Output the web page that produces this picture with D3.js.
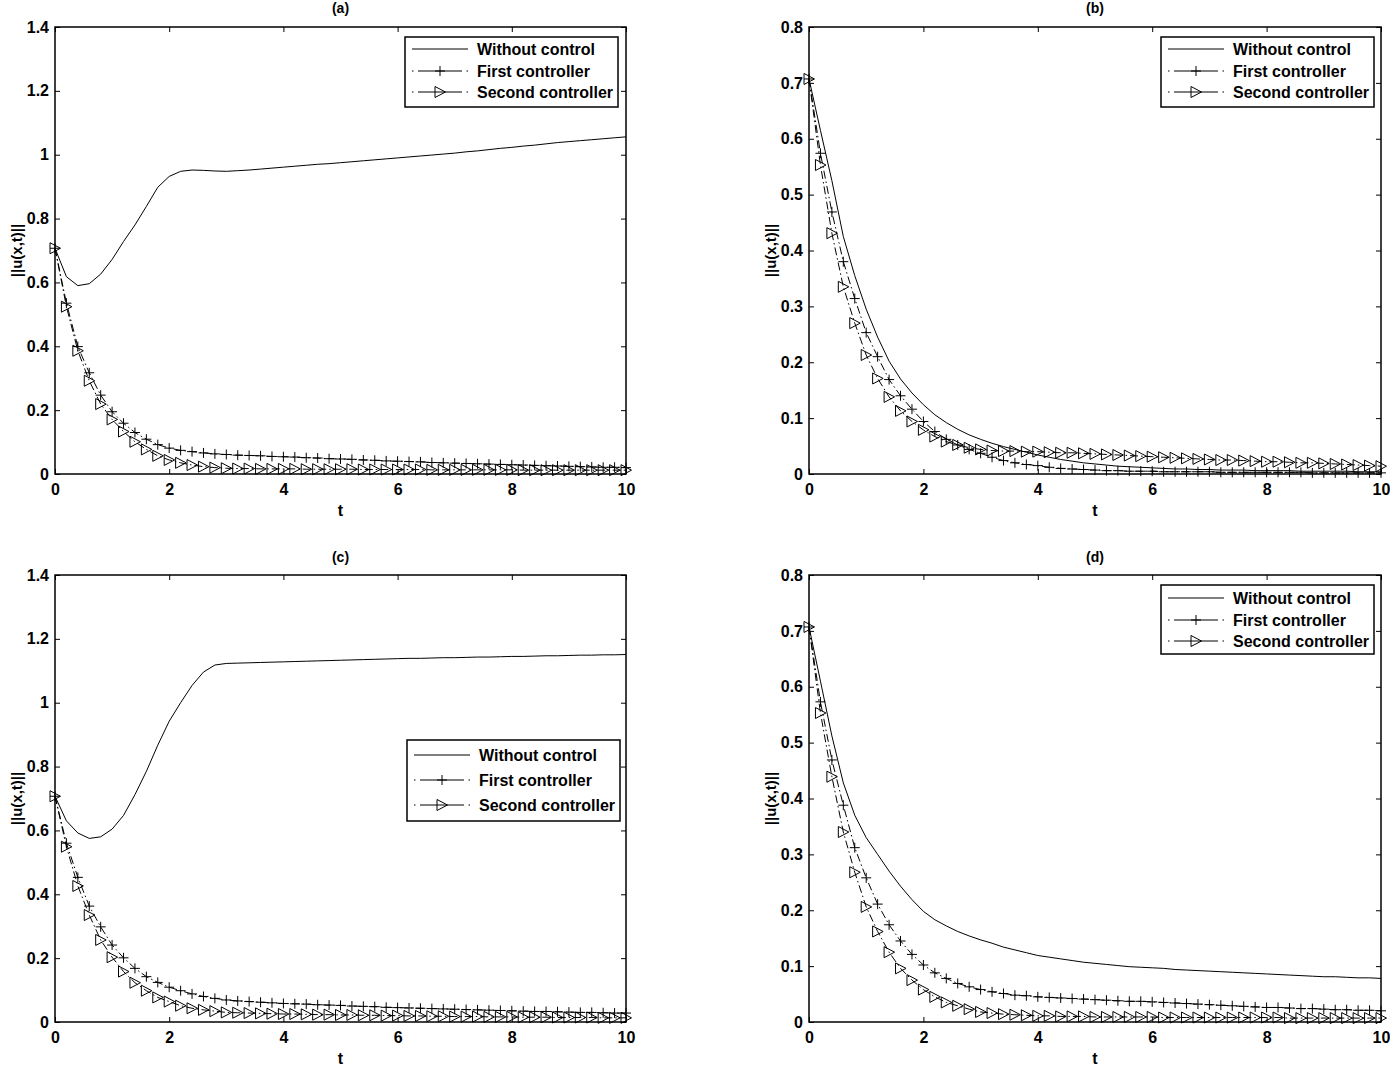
<!DOCTYPE html>
<html>
<head>
<meta charset="utf-8">
<script src="https://cdn.jsdelivr.net/npm/d3@7"></script>
<style>
  body { margin: 0; background: #fff; }
  svg { font-family: "Liberation Sans", Arial, sans-serif; }
</style>
</head>
<body>
<svg id="chart" width="1390" height="1067"></svg>
<script>
// time samples (markers every 0.2)
const tValues = [0, 0.2, 0.4, 0.6, 0.8, 1, 1.2, 1.4, 1.6, 1.8, 2, 2.2, 2.4, 2.6, 2.8, 3, 3.2, 3.4, 3.6, 3.8,
  4, 4.2, 4.4, 4.6, 4.8, 5, 5.2, 5.4, 5.6, 5.8, 6, 6.2, 6.4, 6.6, 6.8, 7, 7.2, 7.4, 7.6, 7.8,
  8, 8.2, 8.4, 8.6, 8.8, 9, 9.2, 9.4, 9.6, 9.8, 10];

// panel (a)
const aWithout = [0.707, 0.618, 0.590, 0.596, 0.626, 0.672, 0.728, 0.780, 0.838, 0.898, 0.932, 0.948, 0.952, 0.951, 0.949, 0.948, 0.950, 0.952, 0.955, 0.958,
  0.961, 0.964, 0.967, 0.970, 0.972, 0.975, 0.978, 0.981, 0.984, 0.987, 0.990, 0.993, 0.996, 0.999, 1.002, 1.005, 1.009, 1.012, 1.016, 1.020,
  1.023, 1.027, 1.030, 1.034, 1.038, 1.041, 1.044, 1.047, 1.050, 1.053, 1.056];
const aFirst = [0.707, 0.535, 0.399, 0.317, 0.247, 0.195, 0.159, 0.130, 0.109, 0.092, 0.081, 0.074, 0.070, 0.066, 0.063, 0.061, 0.059, 0.058, 0.057, 0.055,
  0.054, 0.053, 0.051, 0.050, 0.048, 0.047, 0.046, 0.044, 0.043, 0.041, 0.040, 0.039, 0.038, 0.036, 0.035, 0.034, 0.033, 0.032, 0.031, 0.030,
  0.029, 0.028, 0.027, 0.026, 0.025, 0.024, 0.023, 0.022, 0.021, 0.021, 0.020];
const aSecond = [0.707, 0.524, 0.386, 0.292, 0.219, 0.171, 0.133, 0.101, 0.077, 0.057, 0.044, 0.035, 0.028, 0.023, 0.020, 0.018, 0.017, 0.017, 0.016, 0.016,
  0.016, 0.016, 0.015, 0.015, 0.015, 0.015, 0.015, 0.014, 0.014, 0.014, 0.014, 0.014, 0.014, 0.013, 0.013, 0.013, 0.013, 0.013, 0.013, 0.013,
  0.013, 0.012, 0.012, 0.012, 0.012, 0.012, 0.012, 0.012, 0.012, 0.012, 0.012];

// panel (b)
const bWithout = [0.707, 0.615, 0.525, 0.425, 0.355, 0.295, 0.245, 0.202, 0.170, 0.145, 0.124, 0.106, 0.092, 0.080, 0.070, 0.062, 0.055, 0.049, 0.044, 0.039,
  0.034, 0.030, 0.026, 0.023, 0.020, 0.018, 0.016, 0.014, 0.013, 0.012, 0.011, 0.010, 0.009, 0.009, 0.008, 0.008, 0.007, 0.007, 0.007, 0.006,
  0.006, 0.006, 0.006, 0.005, 0.005, 0.005, 0.005, 0.005, 0.004, 0.004, 0.004];
const bFirst = [0.707, 0.574, 0.469, 0.380, 0.314, 0.253, 0.210, 0.169, 0.140, 0.116, 0.094, 0.076, 0.062, 0.052, 0.044, 0.037, 0.030, 0.024, 0.020, 0.017,
  0.015, 0.012, 0.010, 0.009, 0.008, 0.007, 0.006, 0.006, 0.005, 0.005, 0.005, 0.004, 0.004, 0.004, 0.004, 0.004, 0.003, 0.003, 0.003, 0.003,
  0.003, 0.003, 0.003, 0.003, 0.002, 0.002, 0.002, 0.002, 0.002, 0.002, 0.002];
const bSecond = [0.707, 0.553, 0.431, 0.335, 0.270, 0.213, 0.171, 0.138, 0.113, 0.094, 0.079, 0.067, 0.058, 0.052, 0.047, 0.044, 0.042, 0.041, 0.041, 0.040,
  0.040, 0.039, 0.038, 0.038, 0.037, 0.036, 0.035, 0.034, 0.033, 0.032, 0.031, 0.030, 0.029, 0.028, 0.027, 0.026, 0.025, 0.025, 0.024, 0.023,
  0.022, 0.022, 0.021, 0.020, 0.020, 0.019, 0.018, 0.017, 0.016, 0.015, 0.014];

// panel (c)
const cWithout = [0.707, 0.630, 0.592, 0.575, 0.580, 0.604, 0.647, 0.712, 0.785, 0.867, 0.942, 1.000, 1.054, 1.096, 1.118, 1.123, 1.124, 1.125, 1.126, 1.127,
  1.128, 1.129, 1.130, 1.131, 1.132, 1.133, 1.134, 1.135, 1.136, 1.137, 1.138, 1.139, 1.139, 1.140, 1.141, 1.141, 1.142, 1.143, 1.143, 1.144,
  1.145, 1.145, 1.146, 1.147, 1.147, 1.148, 1.149, 1.149, 1.150, 1.150, 1.151];
const cFirst = [0.707, 0.560, 0.453, 0.363, 0.298, 0.241, 0.201, 0.168, 0.142, 0.124, 0.109, 0.098, 0.088, 0.080, 0.074, 0.069, 0.066, 0.064, 0.062, 0.060,
  0.058, 0.057, 0.056, 0.054, 0.053, 0.052, 0.050, 0.049, 0.048, 0.046, 0.045, 0.044, 0.043, 0.042, 0.041, 0.040, 0.039, 0.038, 0.037, 0.036,
  0.035, 0.034, 0.033, 0.033, 0.032, 0.031, 0.030, 0.030, 0.029, 0.028, 0.028];
const cSecond = [0.707, 0.549, 0.426, 0.335, 0.257, 0.203, 0.158, 0.123, 0.098, 0.077, 0.064, 0.051, 0.043, 0.038, 0.034, 0.030, 0.029, 0.028, 0.027, 0.026,
  0.025, 0.025, 0.024, 0.023, 0.023, 0.022, 0.022, 0.021, 0.021, 0.020, 0.020, 0.019, 0.019, 0.018, 0.018, 0.017, 0.017, 0.017, 0.016, 0.016,
  0.016, 0.015, 0.015, 0.015, 0.014, 0.014, 0.014, 0.014, 0.013, 0.013, 0.013];

// panel (d)
const dWithout = [0.707, 0.610, 0.512, 0.428, 0.370, 0.330, 0.300, 0.270, 0.243, 0.219, 0.198, 0.183, 0.172, 0.162, 0.154, 0.147, 0.141, 0.134, 0.129, 0.124,
  0.119, 0.116, 0.113, 0.110, 0.107, 0.105, 0.103, 0.101, 0.099, 0.098, 0.097, 0.096, 0.094, 0.093, 0.092, 0.091, 0.090, 0.089, 0.088, 0.087,
  0.086, 0.085, 0.084, 0.083, 0.082, 0.081, 0.081, 0.080, 0.079, 0.079, 0.078];
const dFirst = [0.707, 0.573, 0.469, 0.388, 0.312, 0.258, 0.211, 0.174, 0.145, 0.121, 0.102, 0.088, 0.078, 0.069, 0.063, 0.058, 0.054, 0.051, 0.048, 0.047,
  0.045, 0.044, 0.043, 0.042, 0.041, 0.040, 0.039, 0.038, 0.037, 0.037, 0.036, 0.035, 0.034, 0.033, 0.032, 0.031, 0.030, 0.029, 0.028, 0.027,
  0.026, 0.026, 0.025, 0.024, 0.024, 0.023, 0.022, 0.022, 0.021, 0.021, 0.020];
const dSecond = [0.707, 0.553, 0.439, 0.340, 0.268, 0.206, 0.162, 0.125, 0.096, 0.075, 0.058, 0.045, 0.035, 0.029, 0.023, 0.018, 0.016, 0.014, 0.013, 0.012,
  0.011, 0.011, 0.010, 0.010, 0.010, 0.009, 0.009, 0.009, 0.009, 0.009, 0.009, 0.008, 0.008, 0.008, 0.008, 0.008, 0.008, 0.008, 0.008, 0.008,
  0.008, 0.008, 0.007, 0.007, 0.007, 0.007, 0.007, 0.007, 0.007, 0.007, 0.007];

// axis ticks and labels
const xTicks = [0, 2, 4, 6, 8, 10];
const xTickLabels = ['0', '2', '4', '6', '8', '10'];
const yTicksWide = [0, 0.2, 0.4, 0.6, 0.8, 1, 1.2, 1.4];
const yTickLabelsWide = ['0', '0.2', '0.4', '0.6', '0.8', '1', '1.2', '1.4'];
const yTicksNarrow = [0, 0.1, 0.2, 0.3, 0.4, 0.5, 0.6, 0.7, 0.8];
const yTickLabelsNarrow = ['0', '0.1', '0.2', '0.3', '0.4', '0.5', '0.6', '0.7', '0.8'];
const legendLabels = ['Without control', 'First controller', 'Second controller'];
const panelTitles = ['(a)', '(b)', '(c)', '(d)'];
const xLabel = 't';
const yLabel = '||u(x,t)||';

const svg = d3.select('#chart');

const plusPath = 'M-5,0H5M0,-5V5';
const triPath = 'M-5,-5.5L5.5,0L-5,5.5Z';
const dashDot = '8,3,1.5,3';

const panels = [
  { title: panelTitles[0], left: 55, right: 626, top: 27, bottom: 474, yMax: 1.4,
    yTicks: yTicksWide, yLabels: yTickLabelsWide, series: [aWithout, aFirst, aSecond],
    titleY: 13, legend: { x: 405, y: 37, h: 70, rows: [12, 34, 55] } },
  { title: panelTitles[1], left: 809, right: 1381, top: 27, bottom: 474, yMax: 0.8,
    yTicks: yTicksNarrow, yLabels: yTickLabelsNarrow, series: [bWithout, bFirst, bSecond],
    titleY: 13, legend: { x: 1161, y: 37, h: 70, rows: [12, 34, 55] } },
  { title: panelTitles[2], left: 55, right: 626, top: 575, bottom: 1022, yMax: 1.4,
    yTicks: yTicksWide, yLabels: yTickLabelsWide, series: [cWithout, cFirst, cSecond],
    titleY: 562, legend: { x: 407, y: 740, h: 81, rows: [15, 40, 65] } },
  { title: panelTitles[3], left: 809, right: 1381, top: 575, bottom: 1022, yMax: 0.8,
    yTicks: yTicksNarrow, yLabels: yTickLabelsNarrow, series: [dWithout, dFirst, dSecond],
    titleY: 562, legend: { x: 1161, y: 585, h: 69, rows: [13, 35, 56] } }
];

function drawPanel(p) {
  const x = d3.scaleLinear().domain([0, 10]).range([p.left, p.right]);
  const y = d3.scaleLinear().domain([0, p.yMax]).range([p.bottom, p.top]);
  const g = svg.append('g');

  const styleAxis = sel => {
    sel.select('.domain').remove();
    sel.selectAll('.tick line').attr('stroke', '#000').attr('stroke-width', 1);
    sel.selectAll('.tick text')
      .attr('fill', '#000')
      .style('font-size', '16px')
      .style('font-weight', 'bold')
      .style('font-family', '"Liberation Sans", Arial, sans-serif');
  };

  // bottom / left axes with labels, ticks pointing inward
  g.append('g')
    .attr('transform', `translate(0,${p.bottom})`)
    .call(d3.axisBottom(x).tickValues(xTicks).tickFormat((d, i) => xTickLabels[i])
      .tickSizeInner(-5).tickSizeOuter(0).tickPadding(10))
    .call(styleAxis);

  g.append('g')
    .attr('transform', `translate(${p.left},0)`)
    .call(d3.axisLeft(y).tickValues(p.yTicks).tickFormat((d, i) => p.yLabels[i])
      .tickSizeInner(-5).tickSizeOuter(0).tickPadding(6))
    .call(styleAxis);

  // mirrored ticks on top / right
  g.append('g')
    .attr('transform', `translate(0,${p.top})`)
    .call(d3.axisTop(x).tickValues(xTicks).tickFormat('').tickSizeInner(-5).tickSizeOuter(0))
    .call(styleAxis);

  g.append('g')
    .attr('transform', `translate(${p.right},0)`)
    .call(d3.axisRight(y).tickValues(p.yTicks).tickFormat('').tickSizeInner(-5).tickSizeOuter(0))
    .call(styleAxis);

  // frame
  g.append('rect')
    .attr('x', p.left)
    .attr('y', p.top)
    .attr('width', p.right - p.left)
    .attr('height', p.bottom - p.top)
    .attr('fill', 'none')
    .attr('stroke', '#000')
    .attr('stroke-width', 1.5);

  const line = d3.line()
    .x((d, i) => x(tValues[i]))
    .y(d => y(d));

  // without control (solid)
  g.append('path')
    .datum(p.series[0])
    .attr('fill', 'none')
    .attr('stroke', '#000')
    .attr('stroke-width', 1)
    .attr('d', line);

  // first controller (dash-dot with +)
  g.append('path')
    .datum(p.series[1])
    .attr('fill', 'none')
    .attr('stroke', '#000')
    .attr('stroke-width', 1)
    .attr('stroke-dasharray', dashDot)
    .attr('d', line);

  g.selectAll(null)
    .data(p.series[1])
    .join('path')
    .attr('transform', (d, i) => `translate(${x(tValues[i])},${y(d)})`)
    .attr('d', plusPath)
    .attr('fill', 'none')
    .attr('stroke', '#000')
    .attr('stroke-width', 1);

  // second controller (dash-dot with >)
  g.append('path')
    .datum(p.series[2])
    .attr('fill', 'none')
    .attr('stroke', '#000')
    .attr('stroke-width', 1)
    .attr('stroke-dasharray', dashDot)
    .attr('d', line);

  g.selectAll(null)
    .data(p.series[2])
    .join('path')
    .attr('transform', (d, i) => `translate(${x(tValues[i])},${y(d)})`)
    .attr('d', triPath)
    .attr('fill', 'none')
    .attr('stroke', '#000')
    .attr('stroke-width', 1);

  // title, axis labels
  const midX = (p.left + p.right) / 2;
  g.append('text')
    .attr('x', midX)
    .attr('y', p.titleY)
    .attr('text-anchor', 'middle')
    .style('font-size', '14px')
    .style('font-weight', 'bold')
    .text(p.title);

  g.append('text')
    .attr('x', midX)
    .attr('y', p.bottom + 42)
    .attr('text-anchor', 'middle')
    .style('font-size', '16px')
    .style('font-weight', 'bold')
    .text(xLabel);

  g.append('text')
    .attr('transform', `translate(${p.left - 33},${(p.top + p.bottom) / 2}) rotate(-90)`)
    .attr('text-anchor', 'middle')
    .style('font-size', '15px')
    .style('font-weight', 'bold')
    .text(yLabel);

  // legend
  const lg = g.append('g').attr('transform', `translate(${p.legend.x},${p.legend.y})`);
  lg.append('rect')
    .attr('width', 213)
    .attr('height', p.legend.h)
    .attr('fill', '#fff')
    .attr('stroke', '#000')
    .attr('stroke-width', 1.5);

  legendLabels.forEach((label, k) => {
    const ry = p.legend.rows[k];
    const ln = lg.append('line')
      .attr('x1', 7).attr('x2', 63)
      .attr('y1', ry).attr('y2', ry)
      .attr('stroke', '#000')
      .attr('stroke-width', 1);
    if (k > 0) {
      ln.attr('stroke-dasharray', '1.5,4.5,44,4.5,1.5');
      lg.append('path')
        .attr('transform', `translate(35,${ry})`)
        .attr('d', k === 1 ? plusPath : triPath)
        .attr('fill', 'none')
        .attr('stroke', '#000')
        .attr('stroke-width', 1);
    }
    lg.append('text')
      .attr('x', 72)
      .attr('y', ry)
      .attr('dy', '0.35em')
      .style('font-size', '16px')
      .style('font-weight', 'bold')
      .text(label);
  });
}

panels.forEach(drawPanel);
</script>
</body>
</html>
